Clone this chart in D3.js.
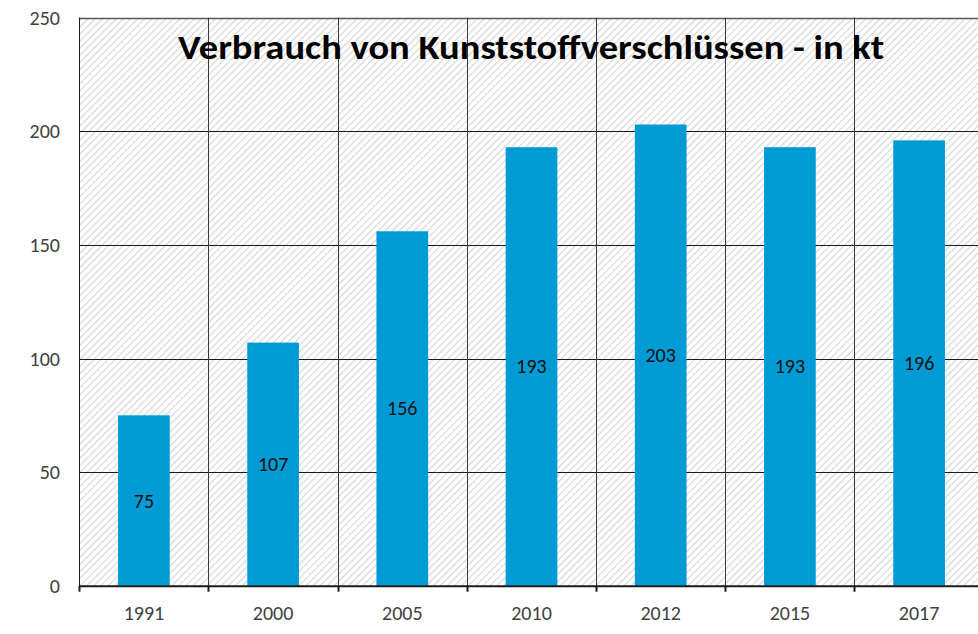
<!DOCTYPE html>
<html>
<head>
<meta charset="utf-8">
<script src="https://cdn.jsdelivr.net/npm/d3@7"></script>
<style>
    body { margin: 0; background: #fff; }
    svg { display: block; }
</style>
</head>
<body>
<div id="chart"></div>
<script>
var years = ['1991', '2000', '2005', '2010', '2012', '2015', '2017'];
var values = [75, 107, 156, 193, 203, 193, 196];
var yTicks = [0, 50, 100, 150, 200, 250];
var title = 'Verbrauch von Kunststoffverschlüssen - in kt';

var width = 978,
    height = 634;

var plot = { left: 79.3, top: 17.7, bottom: 585.7, step: 129.2 };

var svg = d3.select('#chart').append('svg')
    .attr('width', width)
    .attr('height', height);

// diagonal hatch used as plot background
var defs = svg.append('defs');
var hatch = defs.append('pattern')
    .attr('id', 'hatch')
    .attr('patternUnits', 'userSpaceOnUse')
    .attr('width', 5)
    .attr('height', 5)
    .attr('patternTransform', 'rotate(45)');
hatch.append('rect')
    .attr('width', 5)
    .attr('height', 5)
    .attr('fill', '#ffffff');
hatch.append('line')
    .attr('x1', 0).attr('y1', 0)
    .attr('x2', 0).attr('y2', 5)
    .attr('stroke', '#d4d4d4')
    .attr('stroke-width', 2.2);

var x = d3.scaleBand()
    .domain(years)
    .range([plot.left, plot.left + plot.step * years.length])
    .paddingInner(0.6)
    .paddingOuter(0.3);

var y = d3.scaleLinear()
    .domain([0, 250])
    .range([plot.bottom, plot.top]);

var fontStack = 'Carlito, Calibri, "Open Sans", "Noto Sans", sans-serif';

svg.append('rect')
    .attr('x', plot.left)
    .attr('y', plot.top)
    .attr('width', width - plot.left)
    .attr('height', plot.bottom - plot.top)
    .attr('fill', 'url(#hatch)');

// horizontal grid
svg.append('g')
    .attr('class', 'grid-y')
    .selectAll('line')
    .data(yTicks.slice(1))
    .enter().append('line')
    .attr('x1', plot.left)
    .attr('x2', width)
    .attr('y1', function (d) { return Math.round(y(d)) + 0.5; })
    .attr('y2', function (d) { return Math.round(y(d)) + 0.5; })
    .attr('stroke', function (d) { return d == 250 ? '#595959' : '#1a1a1a'; })
    .attr('stroke-width', function (d) { return d == 250 ? 1.5 : 1; });

// vertical grid at category boundaries
var bounds = years.map(function (d) { return x(d) - x.step() * x.paddingOuter(); });
svg.append('g')
    .attr('class', 'grid-x')
    .selectAll('line')
    .data(bounds)
    .enter().append('line')
    .attr('x1', function (d) { return Math.round(d) + 0.5; })
    .attr('x2', function (d) { return Math.round(d) + 0.5; })
    .attr('y1', plot.top)
    .attr('y2', plot.bottom)
    .attr('stroke', '#3a3a3a')
    .attr('stroke-width', 1);

// bars
svg.append('g')
    .attr('class', 'bars')
    .selectAll('rect')
    .data(values)
    .enter().append('rect')
    .attr('x', function (d, i) { return x(years[i]); })
    .attr('y', function (d) { return y(d); })
    .attr('width', x.bandwidth())
    .attr('height', function (d) { return y(0) - y(d); })
    .attr('fill', '#009ad4');

// data labels at half height
svg.append('g')
    .attr('class', 'labels')
    .selectAll('text')
    .data(values)
    .enter().append('text')
    .attr('x', function (d, i) { return x(years[i]) + x.bandwidth() / 2; })
    .attr('y', function (d) { return y(d / 2); })
    .attr('dy', '0.35em')
    .attr('text-anchor', 'middle')
    .style('font-family', fontStack)
    .style('font-size', '20px')
    .style('fill', '#111')
    .text(function (d) { return d; });

// x axis
var xAxis = svg.append('g')
    .attr('class', 'x-axis');
xAxis.append('line')
    .attr('x1', plot.left)
    .attr('x2', width)
    .attr('y1', plot.bottom + 0.5)
    .attr('y2', plot.bottom + 0.5)
    .attr('stroke', '#1a1a1a')
    .attr('stroke-width', 2);
xAxis.selectAll('.tick')
    .data(bounds)
    .enter().append('line')
    .attr('class', 'tick')
    .attr('x1', function (d) { return Math.round(d) + 0.5; })
    .attr('x2', function (d) { return Math.round(d) + 0.5; })
    .attr('y1', plot.bottom)
    .attr('y2', plot.bottom + 6)
    .attr('stroke', '#1a1a1a')
    .attr('stroke-width', 2);
xAxis.selectAll('text')
    .data(years)
    .enter().append('text')
    .attr('x', function (d) { return x(d) + x.bandwidth() / 2; })
    .attr('y', 620)
    .attr('text-anchor', 'middle')
    .style('font-family', fontStack)
    .style('font-size', '20px')
    .style('fill', '#404040')
    .text(function (d) { return d; });

// y axis
var yAxis = svg.append('g')
    .attr('class', 'y-axis');
yAxis.append('line')
    .attr('x1', Math.round(plot.left) + 0.5)
    .attr('x2', Math.round(plot.left) + 0.5)
    .attr('y1', plot.top)
    .attr('y2', plot.bottom)
    .attr('stroke', '#1a1a1a');
yAxis.selectAll('text')
    .data(yTicks)
    .enter().append('text')
    .attr('x', 60)
    .attr('y', function (d) { return y(d); })
    .attr('dy', '0.35em')
    .attr('text-anchor', 'end')
    .style('font-family', fontStack)
    .style('font-size', '20px')
    .style('fill', '#404040')
    .text(function (d) { return d; });

// title
svg.append('text')
    .attr('x', 531)
    .attr('y', 59)
    .attr('text-anchor', 'middle')
    .attr('textLength', 706)
    .attr('lengthAdjust', 'spacingAndGlyphs')
    .style('font-family', fontStack)
    .style('font-size', '35px')
    .style('font-weight', 'bold')
    .style('fill', '#000')
    .text(title);
</script>
</body>
</html>
